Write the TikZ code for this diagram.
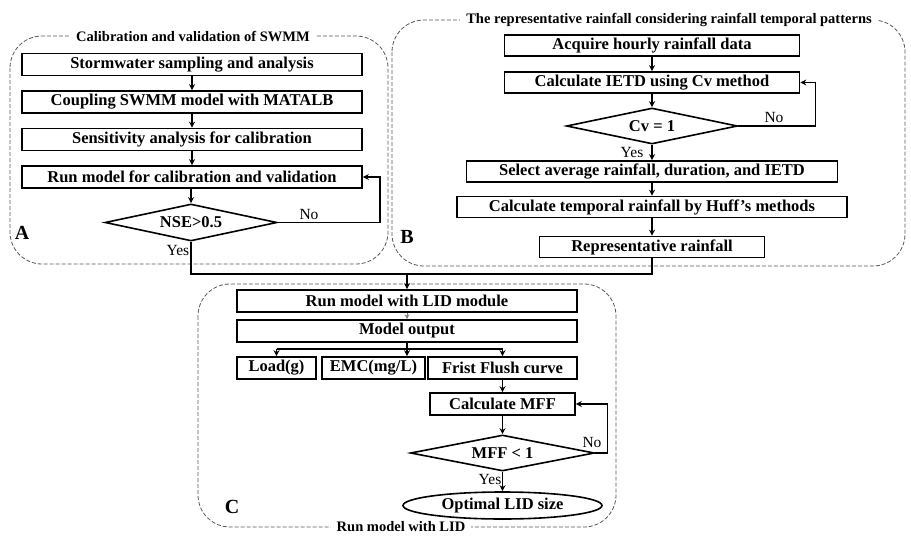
\documentclass[tikz,border=0pt]{standalone}
\usepackage{fontspec}
\setmainfont{Liberation Serif}
\usetikzlibrary{shapes.geometric,arrows.meta}
\begin{document}
\begin{tikzpicture}[x=1pt,y=-1pt,
 box/.style={draw, line width=1.6pt, minimum height=22pt, inner sep=0pt, font=\bfseries\fontsize{16.5}{18}\selectfont},
 dia/.style={draw, shape=diamond, aspect=4.6, line width=1.6pt, inner sep=0pt, font=\bfseries\fontsize{16.5}{18}\selectfont},
 oval/.style={draw, shape=ellipse, line width=1.6pt, inner sep=0pt, font=\bfseries\fontsize{16.5}{18}\selectfont},
 panel/.style={draw=black!65, line width=0.8pt, dash pattern=on 4pt off 2pt, rounded corners=32pt},
 ttl/.style={fill=white, inner xsep=6pt, inner ysep=1pt, font=\bfseries\fontsize{14.5}{16}\selectfont},
 lab/.style={font=\bfseries\fontsize{20}{22}\selectfont, inner sep=0pt},
 yn/.style={font=\fontsize{15.5}{17}\selectfont, inner sep=0pt},
 conn/.style={line width=1.4pt},
 arr/.style={conn, -{Stealth[length=6pt,width=6pt]}},
 thinarr/.style={draw=black!50, line width=0.7pt, -{Stealth[length=5pt,width=5pt]}},
]
\path[use as bounding box, fill=white] (0,0) rectangle (911,536);

% panels
\draw[panel] (10,36) rectangle (388,264);
\draw[panel] (392,20) rectangle (905,266);
\draw[panel] (198,284) rectangle (616,527);
\node[ttl] (ta) at (193,37) {Calibration and validation of SWMM};
\node[ttl] (tb) at (669,20) {The representative rainfall considering rainfall temporal patterns};
\node[ttl] (tc) at (401,527) {Run model with LID};

% panel A
\node[box, minimum width=340pt] (a1) at (192,64.5) {Stormwater sampling and analysis};
\node[box, minimum width=340pt] (a2) at (192,102) {Coupling SWMM model with MATALB};
\node[box, minimum width=340pt] (a3) at (192,139.5) {Sensitivity analysis for calibration};
\node[box, minimum width=340pt] (a4) at (192,177) {Run model for calibration and validation};
\node[dia, minimum width=172pt, minimum height=37pt] (a5) at (191,222.5) {NSE>0.5};

% panel B
\node[box, minimum width=295pt, minimum height=21pt] (b1) at (652,45.5) {Acquire hourly rainfall data};
\node[box, minimum width=295pt, minimum height=21pt] (b2) at (652,82.5) {Calculate IETD using Cv method};
\node[dia, minimum width=171pt, minimum height=36pt] (b3) at (652,126) {Cv = 1};
\node[box, minimum width=371pt, minimum height=21pt] (b4) at (652,171.5) {Select average rainfall, duration, and IETD};
\node[box, minimum width=390pt, minimum height=21pt] (b5) at (652,207) {Calculate temporal rainfall by Huff’s methods};
\node[box, minimum width=225pt, minimum height=21pt] (b6) at (652,247) {Representative rainfall};

% panel C
\node[box, minimum width=340pt] (c1) at (407,301) {Run model with LID module};
\node[box, minimum width=340pt] (c2) at (407,331) {Model output};
\node[box, minimum width=79pt] (c3) at (276.5,368) {Load(g)};
\node[box, minimum width=103pt] (c4) at (373.5,368) {EMC(mg/L)};
\node[box, minimum width=149pt] (c5) at (502.5,368) {Frist Flush curve};
\node[box, minimum width=145pt] (c6) at (502.5,404) {Calculate MFF};
\node[dia, minimum width=184pt, minimum height=36pt] (c7) at (502.5,453) {MFF < 1};
\node[oval, minimum width=199pt, minimum height=27pt] (c8) at (502.5,505.5) {Optimal LID size};

% connectors A
\draw[arr] (a1.south) -- (a2.north);
\draw[arr] (a2.south) -- (a3.north);
\draw[arr] (a3.south) -- (a4.north);
\draw[arr] (a4.south -| a5.north) -- (a5.north);
\draw[arr] (a5.east) -- ++(102,0) |- (a4.east);

% connectors B
\draw[arr] (b1.south) -- (b2.north);
\draw[arr] (b2.south) -- (b3.north);
\draw[arr] (b3.south) -- (b4.north);
\draw[arr] (b4.south) -- (b5.north);
\draw[arr] (b5.south) -- (b6.north);
\draw[arr] (b3.east) -- ++(77,0) |- (b2.east);

% merge
\coordinate (mj) at (407,274);
\draw[conn] (a5.south) |- (mj) -| (b6.south);
\draw[arr] (mj) -- (c1.north);

% connectors C
\draw[thinarr] (c1.south) -- (c2.north);
\coordinate (br) at (407,349);
\draw[arr] (c2.south) -- (c2.south |- c4.north);
\draw[conn] (c3.north |- br) -- (c5.north |- br);
\draw[arr] (c3.north |- br) -- (c3.north);
\draw[arr] (c5.north |- br) -- (c5.north);
\draw[arr] (c5.south) -- (c6.north);
\draw[arr] (c6.south) -- (c7.north);
\draw[arr] (c7.south) -- (c8.north);
\draw[arr] (c7.east) -- ++(12,0) |- (c6.east);

% labels
\node[yn] at (309,214) {No};
\node[yn] at (178,250) {Yes};
\node[yn] at (774,117) {No};
\node[yn] at (632,152) {Yes};
\node[yn] at (592,442) {No};
\node[yn] at (490,479) {Yes};
\node[lab] at (22,233) {A};
\node[lab] at (407,237) {B};
\node[lab] at (232,507) {C};
\end{tikzpicture}
\end{document}
